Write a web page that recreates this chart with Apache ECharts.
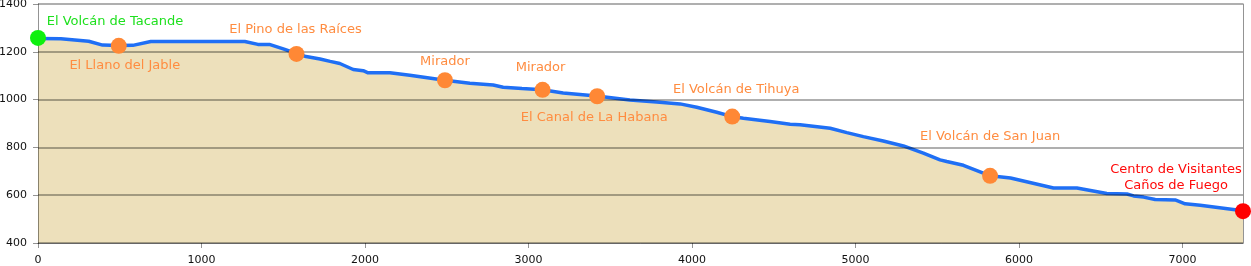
<!DOCTYPE html>
<html>
<head>
<meta charset="utf-8">
<script src="https://cdn.jsdelivr.net/npm/echarts@6/dist/echarts.min.js"></script>
<style>
html,body{margin:0;padding:0;background:#fff;}
#chart{width:1251px;height:266px;}
</style>
</head>
<body>
<div id="chart"></div>
<script>
// Profile data (distance in m, elevation in m)
const distances = [0,140,310,395,494,580,690,1265,1345,1415,1500,1581,1640,1725,1787,1846,1928,1989,2019,2152,2274,2489,2641,2784,2845,2960,3086,3212,3417,3620,3784,3927,4029,4151,4247,4314,4477,4600,4661,4845,4947,5048,5170,5293,5415,5517,5558,5660,5825,5948,6211,6354,6537,6660,6701,6762,6833,6955,7016,7108,7370];
const elevations = [1256,1255,1244,1228,1226,1227,1243,1243,1231,1231,1212,1193,1180,1170,1160,1151,1126,1121,1112,1112,1102,1081,1068,1061,1052,1046,1041,1028,1015,998,990,982,968,947,929,922,908,897,895,880,862,845,827,806,776,748,741,725,681,672,630,630,607,605,597,592,582,580,564,558,535];

// Points of interest
const poiNames = ["El Volcán de Tacande","El Llano del Jable","El Pino de las Raíces","Mirador","Mirador","El Canal de La Habana","El Volcán de Tihuya","El Volcán de San Juan","Centro de Visitantes\nCaños de Fuego"];
const poiDist  = [0,494,1581,2489,3086,3420,4246,5823,7370];
const poiElev  = [1258,1225,1191,1081,1041,1014,929,681,533];
const poiKind  = ["start","poi","poi","poi","poi","poi","poi","poi","end"];

// Axis ticks
const xTicks = { min: 0, max: 7370, interval: 1000 };
const yTicks = { min: 400, max: 1400, interval: 200 };

// Layout-only: label centre offsets from marker centre (px)
const labelOffsets = [[77,-16],[6,20],[-1,-24],[0,-19],[-2,-22],[-3,21],[4,-27],[0,-39],[-67,-34]];
const kindColor = { start: "#0ef00e", poi: "#ff8835", end: "#ff0000" };
const kindTextColor = { start: "#1ee01e", poi: "#ff8c40", end: "#ff0a0a" };

const gridLine = "rgba(0,0,0,0.42)";
const FONT = "DejaVu Sans";

const lineData = distances.map((d, i) => [d, elevations[i]]);
const poiData = poiDist.map((d, i) => ({
  value: [d, poiElev[i]],
  itemStyle: { color: kindColor[poiKind[i]], opacity: 1 },
  label: {
    show: true,
    formatter: poiNames[i],
    position: "inside",
    align: "center",
    verticalAlign: "middle",
    offset: labelOffsets[i],
    color: kindTextColor[poiKind[i]],
    opacity: 1,
    fontFamily: FONT,
    fontSize: 13,
    lineHeight: 16
  }
}));

const plain = v => String(v);

const chart = echarts.init(document.getElementById("chart"), null, { renderer: "canvas" });
chart.setOption({
  animation: false,
  backgroundColor: "#ffffff",
  grid: { left: 38, right: 8, top: 4, bottom: 23, containLabel: false, outerBoundsMode: "none" },
  xAxis: {
    type: "value",
    min: xTicks.min, max: xTicks.max, interval: xTicks.interval,
    z: 5,
    axisLine: { show: true, lineStyle: { color: gridLine, width: 1 } },
    axisTick: { show: true, length: 5, lineStyle: { color: gridLine } },
    axisLabel: { showMaxLabel: false, margin: 12, color: "#111", fontFamily: FONT, fontSize: 11, formatter: plain },
    splitLine: { show: false }
  },
  yAxis: [{
    type: "value",
    min: yTicks.min, max: yTicks.max, interval: yTicks.interval,
    z: 5,
    axisLine: { show: true, lineStyle: { color: gridLine, width: 1 } },
    axisTick: { show: true, length: 5, lineStyle: { color: gridLine } },
    axisLabel: { margin: 11, color: "#111", fontFamily: FONT, fontSize: 11, formatter: plain },
    splitLine: { show: true, lineStyle: { color: gridLine, width: 1.5 } }
  }, {
    type: "value",
    position: "right",
    min: yTicks.min, max: yTicks.max, interval: yTicks.interval,
    z: 5,
    axisLine: { show: true, lineStyle: { color: gridLine, width: 1 } },
    axisTick: { show: false },
    axisLabel: { show: false },
    splitLine: { show: false }
  }],
  series: [{
    type: "line",
    data: lineData,
    z: 2,
    showSymbol: false,
    symbol: "none",
    lineStyle: { color: "#1f6ff5", width: 3.5 },
    areaStyle: { color: "rgb(237,224,187)", opacity: 1 },
    silent: true
  }, {
    type: "scatter",
    data: poiData,
    z: 10,
    symbol: "circle",
    symbolSize: 16,
    itemStyle: { opacity: 1 },
    silent: true
  }]
});
</script>
</body>
</html>
